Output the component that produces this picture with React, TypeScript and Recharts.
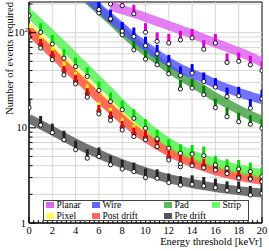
import React from "react";
import {
  ComposedChart,
  Line,
  Scatter,
  XAxis,
  YAxis,
  ReferenceLine,
  ReferenceArea,
} from "recharts";

// ---------- tick labels ----------
const X_MAJOR = [0, 2, 4, 6, 8, 10, 12, 14, 16, 18, 20];
const X_TICKS = [
  0, 0.4, 0.8, 1.2, 1.6, 2, 2.4, 2.8, 3.2, 3.6, 4, 4.4, 4.8, 5.2, 5.6, 6, 6.4, 6.8, 7.2, 7.6, 8,
  8.4, 8.8, 9.2, 9.6, 10, 10.4, 10.8, 11.2, 11.6, 12, 12.4, 12.8, 13.2, 13.6, 14, 14.4, 14.8,
  15.2, 15.6, 16, 16.4, 16.8, 17.2, 17.6, 18, 18.4, 18.8, 19.2, 19.6, 20,
];
const Y_TICKS = [1, 2, 3, 4, 5, 6, 7, 8, 9, 10, 20, 30, 40, 50, 60, 70, 80, 90, 100, 200];
const Y_MAJOR = [1, 10, 100];
const X_GRID = [2, 4, 6, 8, 10, 12, 14, 16, 18];
const Y_GRID = [2, 3, 4, 5, 6, 7, 8, 9, 10, 20, 30, 40, 50, 60, 70, 80, 90, 100, 200];

// ---------- x positions ----------
const X_0_20 = [0, 1, 2, 3, 4, 5, 6, 7, 8, 9, 10, 11, 12, 13, 14, 15, 16, 17, 18, 19, 20];
const X_5_20 = [5, 6, 7, 8, 9, 10, 11, 12, 13, 14, 15, 16, 17, 18, 19, 20];
const X_6_20 = [6, 7, 8, 9, 10, 11, 12, 13, 14, 15, 16, 17, 18, 19, 20];
const X_7_20 = [7, 8, 9, 10, 11, 12, 13, 14, 15, 16, 17, 18, 19, 20];

// ---------- series values ----------
const planarBand = [190, 174, 160, 145, 131, 119, 107, 97, 87, 78, 70, 63, 56, 49];
const planarPts = [200, 192, 158, 101, 81, 78, 84, 88, 67, 78, 48.6, 50, 46, 40];

const wireBand = [235, 182, 143, 113, 89, 72, 59, 49, 42, 37, 33, 29, 26, 23.5, 21.5, 19.7];
const wirePts = [175, 140, 104, 91, 73, 60, 47, 35.5, 37.6, 30.7, 26.8, 21.3, 21.7, 16.1, 20.2];

const padBand = [225, 175, 136, 104, 80, 64, 52, 42, 35, 29.5, 25, 21, 18, 15.5, 13.5, 12];
const padPts = [161, 137, 95, 66, 52.7, 46, 37, 25.6, 26.2, 22.3, 16.3, 13.1, 11.6, 10.9, 9.9];

const stripBand = [160, 123, 94, 72, 54, 41, 31, 23.5, 17.5, 13.5, 10.6, 8.5, 7.0, 5.9, 5.2, 4.7, 4.3, 3.97, 3.7, 3.48, 3.3];
const stripPts = [151, 101, 76, 54, 44, 34.7, 24.7, 18.9, 15.5, 12.6, 9.9, 7.65, 6.1, 5.4, 5.3, 5.1, 4.08, 3.76, 3.7, 3.47, 3.07];

const pixelBand = [113, 86, 66, 50, 38, 29, 22, 17, 13.2, 10.5, 8.5, 7.1, 6.0, 5.2, 4.6, 4.2, 3.8, 3.55, 3.35, 3.17, 3.0];
const pixelPts = [100, 75, 57, 40, 31, 23, 15, 13, 10.2, 8.7, 7.9, 7.3, 4.9, 3.9, 4.2, 4.0, 3.8, 3.47, 3.1, 2.97, 2.8];

const postBand = [105, 80, 61, 46, 35, 27, 20.5, 15.8, 12.3, 9.7, 7.9, 6.6, 5.6, 4.85, 4.3, 3.9, 3.55, 3.3, 3.1, 2.95, 2.8];
const postPts = [90, 69, 52, 36, 29, 21, 14, 12, 9.5, 8.1, 7.5, 6.35, 4.6, 4.2, 4.0, 3.8, 3.6, 3.3, 2.97, 2.9, 2.72];

const preBand = [12.5, 10.8, 9.3, 8.0, 6.9, 6.0, 5.3, 4.7, 4.2, 3.8, 3.45, 3.17, 2.93, 2.75, 2.6, 2.47, 2.36, 2.27, 2.19, 2.12, 2.06];
const prePts = [16.3, 10.7, 8.9, 7.5, 5.9, 4.8, 5.0, 4.1, 3.7, 3.47, 3.0, 2.95, 2.66, 2.5, 2.55, 2.45, 2.35, 2.2, 2.19, 1.97, 2.05];

const zip = (xs: number[], ys: number[]) => xs.map((x, i) => ({ x, y: ys[i] }));

type S = {
  name: string;
  band: { x: number; y: number }[];
  pts: { x: number; y: number }[];
  bandColor: string;
  barColor: string;
  swatch: string;
};

const SERIES: Record<string, S> = {
  planar: { name: "Planar", band: zip(X_7_20, planarBand), pts: zip(X_7_20, planarPts), bandColor: "#dc5ef0", barColor: "#dd00dd", swatch: "#dd66f2" },
  wire: { name: "Wire", band: zip(X_5_20, wireBand), pts: zip(X_6_20, wirePts), bandColor: "#4f4fff", barColor: "#0000ee", swatch: "#6666ff" },
  pad: { name: "Pad", band: zip(X_5_20, padBand), pts: zip(X_6_20, padPts), bandColor: "#3f9f3f", barColor: "#008000", swatch: "#5cb85c" },
  strip: { name: "Strip", band: zip(X_0_20, stripBand), pts: zip(X_0_20, stripPts), bandColor: "#4df24d", barColor: "#00dd00", swatch: "#66ff66" },
  pixel: { name: "Pixel", band: zip(X_0_20, pixelBand), pts: zip(X_0_20, pixelPts), bandColor: "#ffff40", barColor: "#f0f000", swatch: "#ffff55" },
  post: { name: "Post drift", band: zip(X_0_20, postBand), pts: zip(X_0_20, postPts), bandColor: "#ff4a4a", barColor: "#ee0000", swatch: "#ff6666" },
  pre: { name: "Pre drift", band: zip(X_0_20, preBand), pts: zip(X_0_20, prePts), bandColor: "#505050", barColor: "#222222", swatch: "#555555" },
};

const BAND_ORDER = ["pre", "pixel", "post", "strip", "pad", "wire", "planar"];
const LEGEND_ROWS = [
  ["planar", "wire", "pad", "strip"],
  ["pixel", "post", "pre"],
];
const LEGEND_COL_X = [46, 92, 164, 212];

const FONT = '"Liberation Serif", "DejaVu Serif", serif';

const XTick = (props: any) => {
  const { x, y, payload } = props;
  const v = payload.value;
  const major = X_MAJOR.some((m) => Math.abs(m - v) < 1e-6);
  return (
    <g>
      <line x1={x} x2={x} y1={y} y2={y - (major ? 6 : 3)} stroke="#000" strokeWidth={1} />
      {major && (
        <text x={x} y={y + 11} textAnchor="middle" fontSize={10.5} fontFamily={FONT} fill="#000">
          {Math.round(v)}
        </text>
      )}
    </g>
  );
};

const YTick = (props: any) => {
  const { x, y, payload } = props;
  const v = payload.value;
  const major = Y_MAJOR.includes(v);
  let label: React.ReactNode = null;
  if (v === 1)
    label = (
      <text x={x - 3} y={y + 3.5} textAnchor="end" fontSize={10.5} fontFamily={FONT} fill="#000">
        1
      </text>
    );
  if (v === 10)
    label = (
      <text x={x - 2} y={y + 3.5} textAnchor="end" fontSize={10.5} fontFamily={FONT} fill="#000">
        10
      </text>
    );
  if (v === 100)
    label = (
      <text x={x - 1} y={y + 3.5} textAnchor="end" fontSize={10.5} fontFamily={FONT} fill="#000">
        10
        <tspan dy={-4} fontSize={7}>
          2
        </tspan>
      </text>
    );
  return (
    <g>
      <line x1={x} x2={x + (major ? 7 : 3.5)} y1={y} y2={y} stroke="#000" strokeWidth={1} />
      {label}
    </g>
  );
};

const makeShape = (color: string) => (props: any) => {
  const { cx, cy } = props;
  if (cx == null || cy == null) return <g />;
  return (
    <g>
      <rect x={cx - 1.5} y={cy - 9} width={3} height={8} fill={color} />
      <circle cx={cx} cy={cy} r={2.1} fill="#fff" stroke="#000" strokeWidth={0.9} />
    </g>
  );
};

export default function App() {
  return (
    <div style={{ position: "relative", width: 269, height: 251, background: "#fff" }}>
      <style>{`body{margin:0;background:#fff}`}</style>
      <ComposedChart width={269} height={251} margin={{ top: 2, right: 7, bottom: 0, left: 0 }}>
        <XAxis
          type="number"
          dataKey="x"
          domain={[0, 20]}
          ticks={X_TICKS}
          interval={0}
          tick={<XTick />}
          tickLine={false}
          tickSize={0}
          tickMargin={0}
          height={28}
          axisLine={{ stroke: "#000" }}
          allowDataOverflow
        />
        <YAxis
          type="number"
          dataKey="y"
          scale="log"
          domain={[1, 210]}
          ticks={Y_TICKS}
          interval={0}
          tick={<YTick />}
          tickLine={false}
          tickSize={0}
          tickMargin={0}
          width={29}
          axisLine={{ stroke: "#000" }}
          allowDataOverflow
        />
        {X_GRID.map((g) => (
          <ReferenceLine key={"gx" + g} x={g} stroke="#d6d6d6" strokeWidth={1} />
        ))}
        {Y_GRID.map((g) => (
          <ReferenceLine key={"gy" + g} y={g} stroke="#d6d6d6" strokeWidth={1} />
        ))}
        {BAND_ORDER.map((k) => (
          <Line
            key={"band-" + k}
            data={SERIES[k].band}
            dataKey="y"
            type="monotone"
            stroke={SERIES[k].bandColor}
            strokeOpacity={0.8}
            strokeWidth={9}
            strokeLinecap="butt"
            dot={false}
            activeDot={false}
            isAnimationActive={false}
            legendType="none"
          />
        ))}
        {BAND_ORDER.map((k) => (
          <Scatter
            key={"pts-" + k}
            data={SERIES[k].pts}
            dataKey="y"
            shape={makeShape(SERIES[k].barColor)}
            isAnimationActive={false}
            legendType="none"
          />
        ))}
        <ReferenceArea x1={0} x2={20} y1={1} y2={210} fill="none" stroke="#000" strokeWidth={1} ifOverflow="visible" />
      </ComposedChart>
      <svg
        width={269}
        height={251}
        style={{ position: "absolute", left: 0, top: 0, pointerEvents: "none" }}
      >
        <text
          transform="translate(13,2) rotate(-90)"
          textAnchor="end"
          fontSize={10.5}
          fontFamily={FONT}
          fill="#000"
        >
          Number of events required
        </text>
        <text x={262} y={245} textAnchor="end" fontSize={10.5} fontFamily={FONT} fill="#000">
          Energy threshold [keVr]
        </text>
        <rect x={43.5} y={200.5} width={205} height={20} fill="#fff" stroke="#444" strokeWidth={1} />
        {LEGEND_ROWS.map((row, ri) =>
          row.map((k, ci) => (
            <g key={k}>
              <rect x={LEGEND_COL_X[ci]} y={202 + ri * 11} width={8} height={6} fill={SERIES[k].swatch} />
              <text
                x={LEGEND_COL_X[ci] + 10.5}
                y={208 + ri * 11}
                fontSize={9.5}
                fontFamily={FONT}
                fill="#000"
              >
                {SERIES[k].name}
              </text>
            </g>
          ))
        )}
      </svg>
    </div>
  );
}
